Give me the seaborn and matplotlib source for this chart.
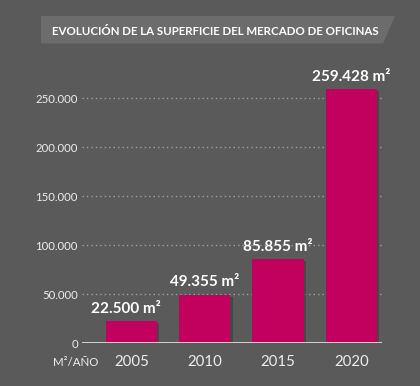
import matplotlib
matplotlib.use("Agg")
import matplotlib.pyplot as plt
import matplotlib.patheffects as pe
from matplotlib.patches import Polygon
import seaborn as sns

# data
years = ["2005", "2010", "2015", "2020"]
surface = [22500, 49355, 85855, 259428]
y_ticks = [0, 50000, 100000, 150000, 200000, 250000]
y_tick_labels = ["0", "50.000", "100.000", "150.000", "200.000", "250.000"]
title = "EVOLUCIÓN DE LA SUPERFICIE DEL MERCADO DE OFICINAS"
unit_label = "M²/AÑO"

bg = "#5a5a5a"
bar_color = "#c2005d"

sns.set_style("white")
plt.rcParams["font.family"] = ["Lato", "DejaVu Sans"]

fig = plt.figure(figsize=(4.2, 3.86), dpi=100, facecolor=bg)
ax = fig.add_axes([82 / 420, (386 - 343.3) / 386, 300 / 420, 264.6 / 386])
ax.set_facecolor(bg)

# bars with a soft drop shadow
shadow = [pe.SimplePatchShadow(offset=(1.5, -1.5), shadow_rgbFace="#3a3a3a", alpha=0.6), pe.Normal()]
sns.barplot(x=years, y=surface, color=bar_color, saturation=1, width=0.7, ax=ax, zorder=3)
for p in ax.patches:
    p.set_path_effects(shadow)
    p.set_linewidth(0)

ax.set_xlim(-0.675, 3.416)
ax.set_ylim(0, 270000)
for s in ax.spines.values():
    s.set_visible(False)

ax.set_yticks(y_ticks)
ax.set_yticklabels(y_tick_labels)
ax.yaxis.grid(True, color="#a0a0a0", linestyle=(0, (1, 2.2)), linewidth=1)
ax.set_axisbelow(True)
ax.axhline(0, color="#e8e8e8", linewidth=1.2, zorder=4)
ax.tick_params(axis="y", length=0, pad=3, labelsize=8.2, labelcolor="#eeeeee")
ax.tick_params(axis="x", length=0, pad=8.5, labelsize=10.8, labelcolor="#eeeeee")
ax.set_xlabel("")
ax.set_ylabel("")

for i, v in enumerate(surface):
    label = f"{v:,}".replace(",", ".") + " m²"
    ax.annotate(label, (i, v), xytext=(-4 if i == 0 else 0, 4), textcoords="offset points",
                ha="center", va="bottom", fontsize=11, fontweight="bold", color="white",
                annotation_clip=False)

fig.text(76 / 420, 1 - 362 / 386, unit_label, ha="center", va="center", fontsize=8.3, color="#eeeeee")

# title banner
banner = Polygon([(41 / 420, 1 - 16 / 386), (395 / 420, 1 - 16 / 386),
                  (383 / 420, 1 - 43.5 / 386), (41 / 420, 1 - 43.5 / 386)],
                 closed=True, transform=fig.transFigure, facecolor="#6c6c6c", edgecolor="none")
fig.patches.append(banner)
fig.text(52 / 420, 1 - 31.5 / 386, title, ha="left", va="center", fontsize=8.3,
         fontweight="bold", color="white")

fig.savefig("out.png", dpi=100, facecolor=bg)
